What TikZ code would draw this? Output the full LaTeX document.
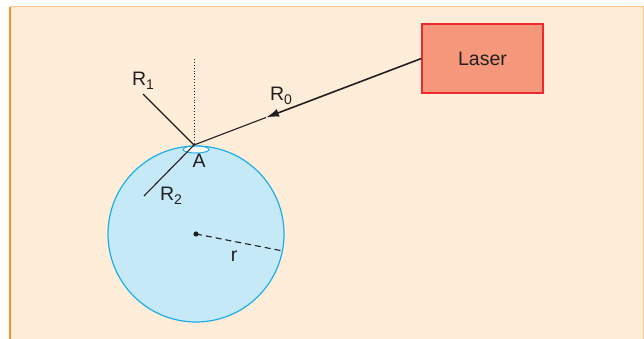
\documentclass[tikz,border=0pt]{standalone}
\usepackage{fontspec}
\setmainfont{Liberation Sans}
\usetikzlibrary{arrows.meta,shapes.geometric}
\definecolor{panelbg}{HTML}{FEEDD9}
\definecolor{paneledge}{HTML}{F7941D}
\definecolor{paneltop}{HTML}{FDC68A}
\definecolor{dropfill}{HTML}{C6E9F8}
\definecolor{dropline}{HTML}{1CAEE8}
\definecolor{laserfill}{HTML}{F5977A}
\definecolor{laserline}{HTML}{EE2A30}
\definecolor{ink}{HTML}{231F20}
\newcommand{\rlabel}[1]{R\raisebox{-0.35ex}{\fontsize{14}{14}\selectfont #1}}

\begin{document}
\begin{tikzpicture}[x=1pt,y=-1pt,>=Latex,font=\fontsize{19.5}{21}\selectfont,
  ray/.style={draw=ink,line width=1.1pt},
  lbl/.style={text=ink,inner sep=0pt}]
\useasboundingbox (0,0) rectangle (644,339);
\fill[panelbg] (10,7) rectangle (643,339);
\draw[paneltop,line width=1pt] (10,7) -- (643,7) -- (643,339);
\draw[paneledge,line width=1.4pt] (10,7) -- (10,339);
% drop and laser
\node[circle,draw=dropline,fill=dropfill,line width=1.2pt,minimum size=176pt,inner sep=0pt] (drop) at (196,234) {};
\node[draw=laserline,fill=laserfill,line width=1.2pt,minimum width=121pt,minimum height=69pt,text=ink] (laser) at (482.5,58.5) {Laser};
\node[ellipse,draw=dropline,fill=white,line width=1pt,minimum width=26pt,minimum height=7pt,inner sep=0pt] (spot) at (196,149.5) {};
\coordinate (A) at (194,145);
\coordinate (tip) at (266,117.5);
\coordinate (r1end) at (143,94);
\coordinate (r2end) at (144,196);
\coordinate (normal) at (194,59);
\coordinate (ctr) at (196,234);
\coordinate (rim) at (283,251);
% rays
\draw[draw=ink,line width=1.6pt,-{Latex[length=13pt,width=8pt]}] (laser.west) -- (tip);
\draw[ray] (tip) -- (A);
\draw[ray] (r1end) -- (A);
\draw[ray] (A) -- (r2end);
\draw[draw=ink,line width=0.9pt,dotted] (normal) -- (A);
\draw[draw=ink,line width=1.1pt,dash pattern=on 6pt off 4pt] (ctr) -- (rim);
\fill[ink] (ctr) circle (2.6pt);
% labels
\node[lbl] (lr1) at (143,81) {\rlabel{1}};
\node[lbl] (lr2) at (171,196) {\rlabel{2}};
\node[lbl] (lr0) at (281,96) {\rlabel{0}};
\node[lbl] (la) at (199,161) {A};
\node[lbl] (lr) at (234,256) {r};
\end{tikzpicture}
\end{document}
